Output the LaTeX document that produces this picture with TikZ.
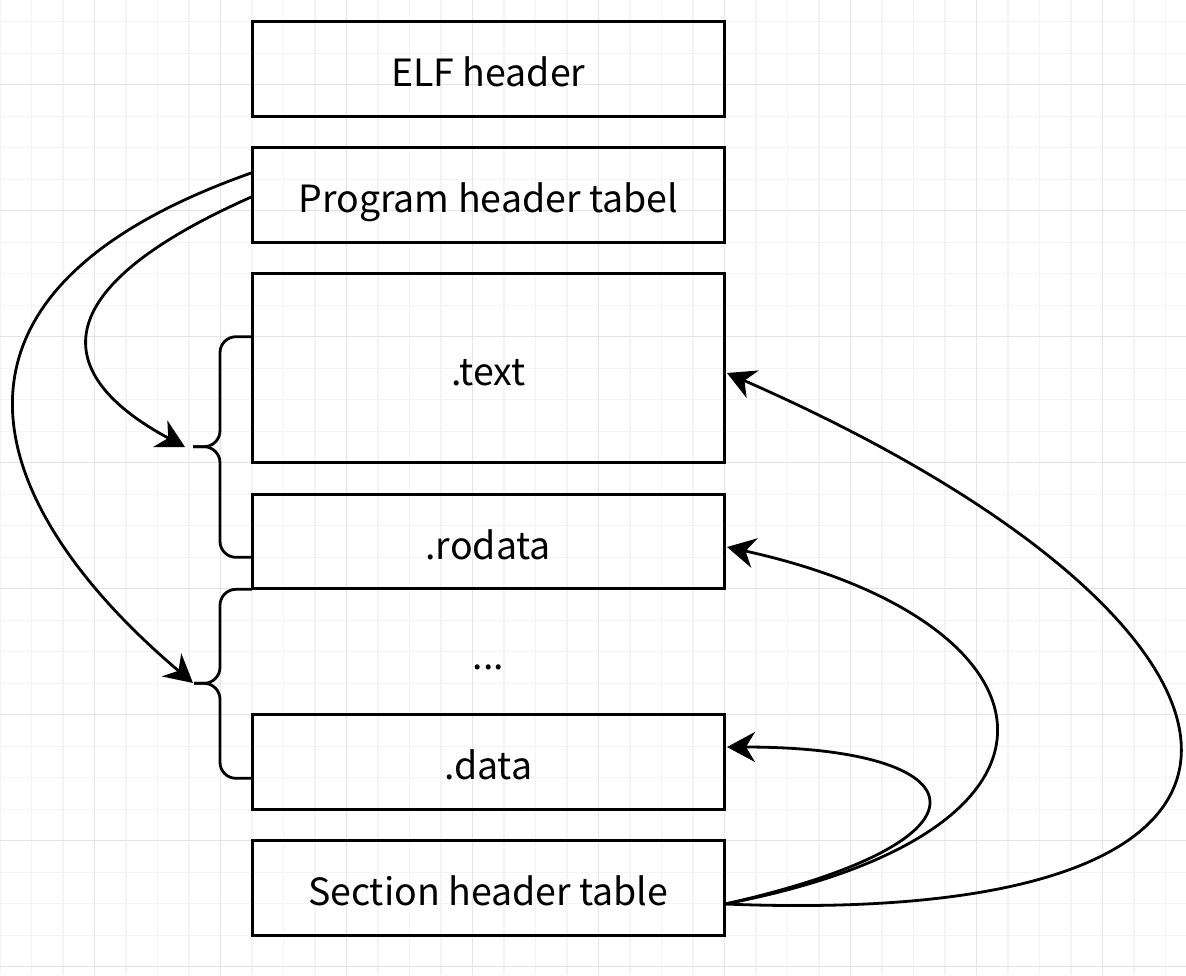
\documentclass[tikz,border=0pt]{standalone}
\usepackage{fontspec}
\setmainfont{Noto Sans CJK SC}
\usetikzlibrary{arrows.meta}
\definecolor{gridminor}{HTML}{F4F4F4}
\definecolor{gridmajor}{HTML}{E4E4E4}
\tikzset{
  secbox/.style={draw=black, line width=3pt, minimum width=472.5pt, inner sep=0pt, text height=35.4pt, text depth=0pt, font=\fontsize{37.5}{45}\selectfont},
  brace/.style={draw=black, line width=2.8pt, rounded corners=16pt},
  conn/.style={draw=black, line width=2.8pt, -{Stealth[length=28pt,width=30pt,inset=9pt]}},
  plainlabel/.style={inner sep=0pt, font=\fontsize{37.5}{45}\selectfont},
}
\begin{document}
\begin{tikzpicture}[x=1pt,y=-1pt]
\useasboundingbox (0,0) rectangle (1186,975);
\fill[white] (0,0) rectangle (1186,975);
% grid
\foreach \i in {0,...,37} {
  \pgfmathsetmacro\xx{\i*31.5}
  \draw[gridminor, line width=1.2pt] (\xx,0) -- (\xx,975);
}
\foreach \j in {-1,...,30} {
  \pgfmathsetmacro\yy{21.7+\j*31.5}
  \draw[gridminor, line width=1.2pt] (0,\yy) -- (1186,\yy);
}
\foreach \i in {0,...,9} {
  \pgfmathsetmacro\xx{94.5+\i*126}
  \draw[gridmajor, line width=1.4pt] (\xx,0) -- (\xx,975);
}
\foreach \j in {0,...,7} {
  \pgfmathsetmacro\yy{84.7+\j*126}
  \draw[gridmajor, line width=1.4pt] (0,\yy) -- (1186,\yy);
}
% boxes
\node[secbox, minimum height=94.5pt] (elf) at (488.25,68.95) {ELF header};
\node[secbox, minimum height=94.5pt] (ph) at (488.25,194.95) {Program header tabel};
\node[secbox, minimum height=189pt] (text) at (488.25,368.2) {.text};
\node[secbox, minimum height=94.5pt] (rodata) at (488.25,541.45) {.rodata};
\node[plainlabel, anchor=base] (dots) at (488.25,669) {...};
\node[secbox, minimum height=94.5pt] (data) at (488.25,761.95) {.data};
\node[secbox, minimum height=94.5pt] (sht) at (488.25,887.95) {Section header table};
% braces
\coordinate (b1t) at (252,336.7);
\coordinate (b1b) at (252,557.3);
\coordinate (b1m) at (193,446.7);
\coordinate (b2t) at (252,589.3);
\coordinate (b2b) at (252,778.3);
\coordinate (b2m) at (194,683.3);
\draw[brace] (b1t) -- (220,336.7) -- (220,446.7) -- (b1m);
\draw[brace] (b1b) -- (220,557.3) -- (220,446.7) -- (b1m);
\draw[brace] (b2t) -- (220,589.3) -- (220,683.3) -- (b2m);
\draw[brace] (b2b) -- (220,778.3) -- (220,683.3) -- (b2m);
% left connectors
\coordinate (p1) at (252,196.7);
\coordinate (p2) at (252,172.7);
\coordinate (a1) at (185,447);
\coordinate (a2) at (193,683);
\draw[conn] (p1) .. controls (30,295) and (60,380) .. (a1);
\draw[conn] (p2) .. controls (-110,300) and (0,520) .. (a2);
% right connectors
\coordinate (s0) at (725,904);
\coordinate (t1) at (727,373);
\coordinate (t2) at (727,547);
\coordinate (t3) at (727,747);
\draw[conn] (s0) .. controls (1010,840) and (980,747) .. (t3);
\draw[conn] (s0) .. controls (1110,830) and (1060,620) .. (t2);
\draw[conn] (s0) .. controls (1370,930) and (1290,620) .. (t1);
\end{tikzpicture}
\end{document}
